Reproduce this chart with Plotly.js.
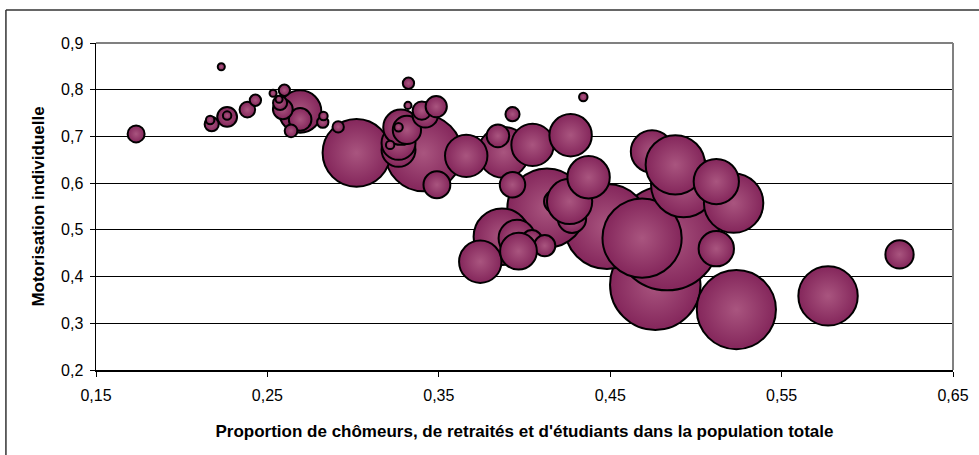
<!DOCTYPE html>
<html>
<head>
<meta charset="utf-8">
<script src="https://cdn.plot.ly/plotly-3.0.1.min.js"></script>
<style>
  html, body { margin: 0; padding: 0; background: #ffffff; }
  #chart { width: 979px; height: 455px; }
</style>
</head>
<body>
<div id="chart"></div>
<script>
// Proportion de chômeurs, de retraités et d'étudiants dans la population totale
const proportionInactifs = [
  0.4763, 0.4832, 0.4481, 0.4686, 0.4131, 0.5236, 0.3411, 0.3020, 0.4744, 0.4928,
  0.4880, 0.5220, 0.5119, 0.5771, 0.3868, 0.3878, 0.3845, 0.4277, 0.4180, 0.4263,
  0.2691, 0.3660, 0.4047, 0.4269, 0.4374, 0.3742, 0.3956, 0.4043, 0.4118, 0.3965,
  0.5119, 0.3265, 0.3265, 0.3279, 0.3314, 0.3265, 0.3216, 0.6188, 0.3489, 0.3930,
  0.3421, 0.3401, 0.3485, 0.2691, 0.2590, 0.2574, 0.2568, 0.2265, 0.2265, 0.1734,
  0.2383, 0.2175, 0.2166, 0.3930, 0.2638, 0.2430, 0.2599, 0.2823, 0.2913, 0.3323,
  0.2827, 0.4343, 0.2231, 0.2533, 0.3320
];
// Motorisation individuelle
const motorisation = [
  0.3827, 0.4825, 0.5073, 0.4825, 0.5467, 0.3293, 0.6642, 0.6648, 0.6676, 0.5965,
  0.6392, 0.5573, 0.6035, 0.3586, 0.4853, 0.6659, 0.7012, 0.5238, 0.5608, 0.5608,
  0.7535, 0.6584, 0.6819, 0.7027, 0.6125, 0.4319, 0.4821, 0.4768, 0.4661, 0.4543,
  0.4597, 0.6713, 0.6862, 0.7198, 0.7140, 0.7198, 0.6819, 0.4475, 0.5965, 0.5965,
  0.7461, 0.7553, 0.7638, 0.7364, 0.7582, 0.7717, 0.7796, 0.7418, 0.7446, 0.7054,
  0.7574, 0.7262, 0.7353, 0.7476, 0.7119, 0.7775, 0.7989, 0.7305, 0.7204, 0.8138,
  0.7439, 0.7845, 0.8493, 0.7924, 0.7664
];
// Taille des bulles (population, valeurs relatives)
const population = [
  4096, 5476, 3600, 3136, 3136, 3136, 2916, 2304, 900, 2116,
  1764, 1764, 1024, 1764, 1600, 1296, 256, 400, 256, 1024,
  900, 900, 900, 900, 900, 900, 676, 225, 225, 676,
  625, 576, 576, 625, 400, 36, 36, 400, 361, 324,
  324, 169, 225, 256, 196, 100, 25, 196, 36, 144,
  121, 100, 36, 100, 81, 64, 64, 64, 64, 64,
  36, 36, 25, 25, 25
];
const xTickVals = [0.15, 0.25, 0.35, 0.45, 0.55, 0.65];
const yTickVals = [0.2, 0.3, 0.4, 0.5, 0.6, 0.7, 0.8, 0.9];
const xTitle = "Proportion de chômeurs, de retraités et d'étudiants dans la population totale";
const yTitle = "Motorisation individuelle";

const FONT = "Liberation Sans, Arial, sans-serif";

const trace = {
  type: 'scatter',
  mode: 'markers',
  x: proportionInactifs,
  y: motorisation,
  hoverinfo: 'x+y',
  marker: {
    size: population,
    sizemode: 'area',
    sizeref: 1,
    color: '#84265b',
    gradient: { type: 'radial', color: '#a9557f' },
    line: { color: '#000000', width: 2 },
    opacity: 1
  }
};

const layout = {
  width: 979,
  height: 455,
  margin: { l: 96, r: 26, t: 43, b: 85, pad: 0 },
  paper_bgcolor: '#ffffff',
  plot_bgcolor: '#ffffff',
  separators: ', ',
  showlegend: false,
  font: { family: FONT, size: 16, color: '#000000' },
  xaxis: {
    range: [0.15, 0.65],
    tickvals: xTickVals,
    tickformat: '.2f',
    ticks: 'outside',
    ticklen: 5,
    tickwidth: 1,
    tickcolor: '#000000',
    ticklabelstandoff: 5,
    showgrid: false,
    zeroline: false,
    showline: true,
    linecolor: '#000000',
    linewidth: 1.5,
    tickfont: { family: FONT, size: 16, color: '#000000' },
    title: { text: xTitle, font: { family: FONT, size: 17, color: '#000000', weight: 'bold' }, standoff: 22 },
    fixedrange: true
  },
  yaxis: {
    range: [0.2, 0.9],
    tickvals: yTickVals,
    tickformat: '.1f',
    ticks: 'outside',
    ticklen: 5,
    tickwidth: 1,
    tickcolor: '#000000',
    ticklabelstandoff: 3,
    showgrid: true,
    gridcolor: '#000000',
    gridwidth: 1,
    zeroline: false,
    showline: true,
    linecolor: '#000000',
    linewidth: 1.5,
    tickfont: { family: FONT, size: 16, color: '#000000' },
    title: { text: yTitle, font: { family: FONT, size: 17, color: '#000000', weight: 'bold' }, standoff: 12 },
    fixedrange: true
  },
  shapes: [
    // plot area border (top and right), grey
    { type: 'line', xref: 'paper', yref: 'paper', x0: 0, x1: 1, y0: 1, y1: 1, line: { color: '#808080', width: 2 } },
    { type: 'line', xref: 'paper', yref: 'paper', x0: 1, x1: 1, y0: 0, y1: 1, line: { color: '#808080', width: 2 } },
    // outer chart frame
    { type: 'line', xref: 'paper', yref: 'paper', x0: -0.1051, x1: 1.05, y0: 1.1008, y1: 1.1008, line: { color: '#333333', width: 1.5 } },
    { type: 'line', xref: 'paper', yref: 'paper', x0: -0.1051, x1: -0.1051, y0: -0.3, y1: 1.1008, line: { color: '#333333', width: 1.5 } }
  ]
};

Plotly.newPlot('chart', [trace], layout, { displayModeBar: false, staticPlot: true });
</script>
</body>
</html>
